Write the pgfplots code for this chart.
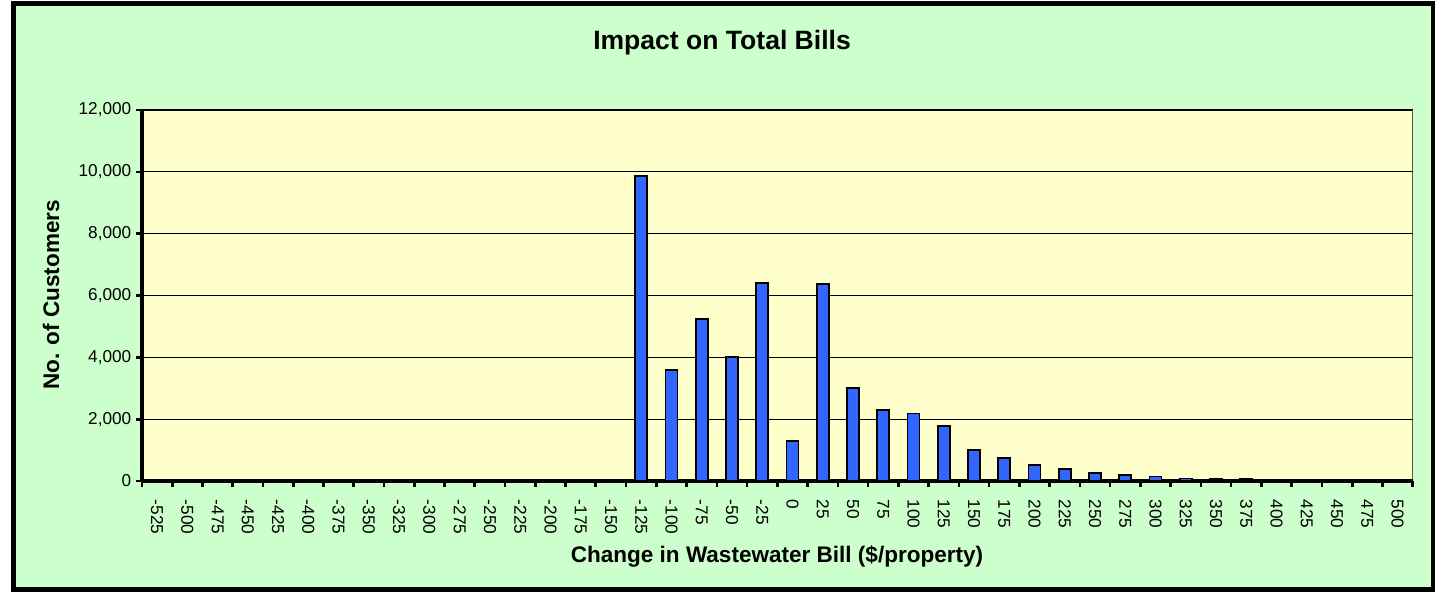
\documentclass[border=0pt]{standalone}
\usepackage{fontspec}
\setmainfont{Liberation Sans}
\usepackage{pgfplots}
\pgfplotsset{compat=1.18}
\usepackage{pgfplotstable}
\definecolor{bggreen}{HTML}{CCFFCC}
\definecolor{plotyellow}{HTML}{FFFFCC}
\definecolor{barblue}{HTML}{3366FF}
\pgfplotstableread{
idx val
0 0
1 0
2 0
3 0
4 0
5 0
6 0
7 0
8 0
9 0
10 0
11 0
12 0
13 0
14 0
15 0
16 9870
17 3580
18 5250
19 4000
20 6400
21 1300
22 6370
23 3010
24 2300
25 2180
26 1790
27 1000
28 740
29 520
30 400
31 270
32 190
33 145
34 80
35 65
36 55
37 45
38 35
39 20
40 15
41 15
}\datatable
\begin{document}
\begin{tikzpicture}
\begin{scope}[x=0.75pt,y=-0.75pt]
\fill[white] (0,0) rectangle (1437,595);
\fill[bggreen] (14,6) rectangle (1432,590);
\draw[line width=3.5pt] (13.5,3.5) rectangle (1433,589.5);
\end{scope}
\begin{axis}[
  at={(106.5pt,-360.75pt)}, anchor=south west,
  scale only axis, width=953pt, height=278.25pt,
  xmin=-0.5, xmax=41.5, ymin=0, ymax=12000,
  axis background/.style={fill=plotyellow},
  axis x line*=bottom, axis y line*=left,
  axis line style={-, line width=2.3pt, black},
  tick align=outside,
  scaled y ticks=false,
  ytick={0,2000,...,12000},
  yticklabels={0,{2,000},{4,000},{6,000},{8,000},{10,000},{12,000}},
  xtick={0,...,41},
  xticklabels={-525,-500,-475,-450,-425,-400,-375,-350,-325,-300,-275,-250,-225,-200,-175,-150,-125,-100,-75,-50,-25,0,25,50,75,100,125,150,175,200,225,250,275,300,325,350,375,400,425,450,475,500},
  minor xtick={-0.5,0.5,...,41.5},
  major x tick style={draw=none},
  minor x tick style={line width=2pt, black},
  ytick style={line width=2pt, black},
  major tick length=4.5pt, minor tick length=4.5pt,
  xticklabel style={yshift=-6pt, rotate=-90, anchor=west, font=\fontsize{12.9}{14}\selectfont},
  yticklabel style={font=\fontsize{12.9}{14}\selectfont},
  ymajorgrids, major grid style={black, line width=0.75pt},
]
\addplot[ybar, bar width=9pt, fill=barblue, draw=black, line width=1.3pt] table[x=idx, y=val] {\datatable};
\draw[line width=1pt] (rel axis cs:0,1) -- (rel axis cs:1,1) -- (rel axis cs:1,0);
\end{axis}
\begin{scope}[x=0.75pt,y=-0.75pt]
\node[anchor=base, inner sep=0pt, font=\bfseries\fontsize{19.9}{22}\selectfont] at (722,50) {Impact on Total Bills};
\node[anchor=base, inner sep=0pt, font=\bfseries\fontsize{16.9}{19}\selectfont] at (777,562) {Change in Wastewater Bill (\$/property)};
\node[anchor=center, inner sep=0pt, rotate=90, font=\bfseries\fontsize{16.9}{19}\selectfont] at (51,295) {No. of Customers};
\end{scope}
\end{tikzpicture}
\end{document}
